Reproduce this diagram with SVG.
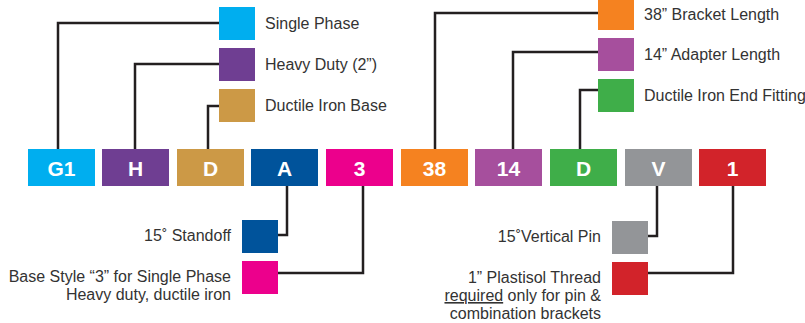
<svg xmlns="http://www.w3.org/2000/svg" width="805" height="323" viewBox="0 0 805 323">
<style>
.lbl{font-family:"Liberation Sans",Arial,sans-serif;font-size:16px;fill:#333333}
.end{text-anchor:end}
.code{font-family:"Liberation Sans",Arial,sans-serif;font-size:21px;font-weight:bold;fill:#ffffff;text-anchor:middle}
.conn{fill:none;stroke:#231f20;stroke-width:2.5;stroke-linejoin:miter}
</style>
<rect width="805" height="323" fill="#ffffff"/>
<g id="connectors">
<polyline class="conn" points="58,149 58,23 219,23"/>
<polyline class="conn" points="135,149 135,64 219,64"/>
<polyline class="conn" points="208,149 208,106 219,106"/>
<polyline class="conn" points="435,149 435,13 598,13"/>
<polyline class="conn" points="513,149 513,52 598,52"/>
<polyline class="conn" points="580,149 580,90 598,90"/>
<polyline class="conn" points="287,186 287,235 278,235"/>
<polyline class="conn" points="363,186 363,273 278,273"/>
<polyline class="conn" points="657,186 657,236 648,236"/>
<polyline class="conn" points="733,186 733,273 648,273"/>
</g>
<g id="code-G1"><rect x="28" y="149" width="67" height="37" fill="#00aeef"/><text class="code" x="61.5" y="175.5">G1</text></g>
<g id="code-H"><rect x="102" y="149" width="67" height="37" fill="#6f3e92"/><text class="code" x="135.5" y="175.5">H</text></g>
<g id="code-D1"><rect x="177" y="149" width="67" height="37" fill="#cc9946"/><text class="code" x="210.5" y="175.5">D</text></g>
<g id="code-A"><rect x="251" y="149" width="67" height="37" fill="#00539b"/><text class="code" x="284.5" y="175.5">A</text></g>
<g id="code-3"><rect x="326" y="149" width="67" height="37" fill="#ec008c"/><text class="code" x="359.5" y="175.5">3</text></g>
<g id="code-38"><rect x="401" y="149" width="67" height="37" fill="#f58220"/><text class="code" x="434.5" y="175.5">38</text></g>
<g id="code-14"><rect x="475" y="149" width="67" height="37" fill="#a64f9d"/><text class="code" x="508.5" y="175.5">14</text></g>
<g id="code-D2"><rect x="550" y="149" width="67" height="37" fill="#3fae49"/><text class="code" x="583.5" y="175.5">D</text></g>
<g id="code-V"><rect x="625" y="149" width="67" height="37" fill="#939598"/><text class="code" x="658.5" y="175.5">V</text></g>
<g id="code-1"><rect x="699" y="149" width="67" height="37" fill="#d2232a"/><text class="code" x="732.5" y="175.5">1</text></g>
<g id="key-single-phase"><rect x="219" y="7" width="36" height="33" fill="#00aeef"/><text class="lbl" x="265" y="29">Single Phase</text></g>
<g id="key-heavy-duty"><rect x="219" y="48" width="36" height="33" fill="#6f3e92"/><text class="lbl" x="265" y="70">Heavy Duty (2”)</text></g>
<g id="key-ductile-base"><rect x="219" y="89" width="36" height="33" fill="#cc9946"/><text class="lbl" x="265" y="111">Ductile Iron Base</text></g>
<g id="key-bracket"><rect x="598" y="0" width="36" height="30" fill="#f58220"/><text class="lbl" x="644" y="20">38” Bracket Length</text></g>
<g id="key-adapter"><rect x="598" y="38" width="36" height="33" fill="#a64f9d"/><text class="lbl" x="644" y="60">14” Adapter Length</text></g>
<g id="key-end-fitting"><rect x="598" y="79" width="36" height="33" fill="#3fae49"/><text class="lbl" x="644" y="101">Ductile Iron End Fitting</text></g>
<g id="key-standoff"><rect x="242" y="220" width="36" height="33" fill="#00539b"/><text class="lbl end" x="231" y="241">15˚ Standoff</text></g>
<g id="key-base-style"><rect x="242" y="261" width="36" height="33" fill="#ec008c"/><text class="lbl end" x="231" y="282">Base Style “3” for Single Phase</text><text class="lbl end" x="231" y="300">Heavy duty, ductile iron</text></g>
<g id="key-vertical-pin"><rect x="612" y="221" width="36" height="33" fill="#939598"/><text class="lbl end" x="601" y="242">15˚Vertical Pin</text></g>
<g id="key-plastisol"><rect x="612" y="262" width="36" height="33" fill="#d2232a"/><text class="lbl end" x="601" y="283">1” Plastisol Thread</text><text class="lbl end" x="601" y="301"><tspan style="text-decoration:underline">required</tspan> only for pin &amp;</text><text class="lbl end" x="601" y="319">combination brackets</text></g>
</svg>
